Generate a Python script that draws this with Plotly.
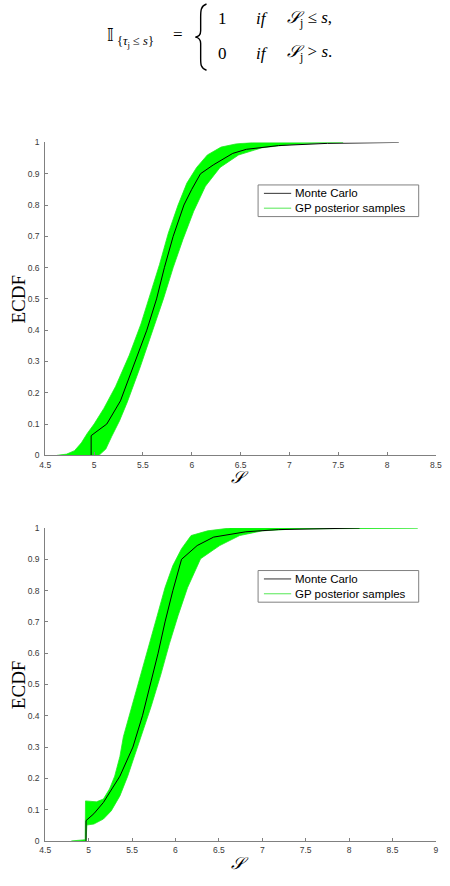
import plotly.graph_objects as go

W, H = 450, 886

# ---------------- data ----------------
# Top panel
mc1_s = [4.97, 4.97, 5.03, 5.13, 5.27, 5.42, 5.54, 5.64, 5.72, 5.81, 5.92, 6.00, 6.09, 6.22, 6.42, 6.56, 6.89, 7.39, 8.12]
mc1_p = [0.0, 0.063, 0.077, 0.10, 0.174, 0.30, 0.40, 0.50, 0.60, 0.70, 0.80, 0.85, 0.90, 0.928, 0.965, 0.978, 0.99, 0.997, 1.0]

gp1_up_s = [4.62, 4.72, 4.80, 4.87, 4.93, 5.00, 5.10, 5.22, 5.36, 5.48, 5.58, 5.67, 5.76, 5.86, 5.95, 6.05, 6.16, 6.30, 6.45, 6.62]
gp1_up_p = [0.0, 0.004, 0.015, 0.04, 0.07, 0.10, 0.15, 0.22, 0.32, 0.42, 0.52, 0.61, 0.71, 0.80, 0.87, 0.92, 0.96, 0.985, 0.995, 1.0]
gp1_lo_s = [5.05, 5.12, 5.18, 5.26, 5.34, 5.47, 5.60, 5.71, 5.81, 5.91, 6.02, 6.14, 6.29, 6.48, 6.72, 7.00, 7.30, 7.55]
gp1_lo_p = [0.0, 0.02, 0.06, 0.11, 0.17, 0.28, 0.40, 0.50, 0.60, 0.69, 0.78, 0.86, 0.92, 0.96, 0.983, 0.993, 0.998, 1.0]

# Bottom panel
mc2_s = [4.97, 4.97, 5.06, 5.17, 5.36, 5.51, 5.62, 5.71, 5.80, 5.88, 5.97, 6.07, 6.25, 6.44, 6.81, 7.19, 7.56, 8.12]
mc2_p = [0.0, 0.065, 0.087, 0.123, 0.207, 0.30, 0.40, 0.50, 0.60, 0.70, 0.80, 0.90, 0.944, 0.971, 0.988, 0.995, 0.997, 1.0]

gp2_up_s = [4.80, 4.90, 4.96, 4.964, 5.09, 5.17, 5.24, 5.30, 5.36, 5.40, 5.50, 5.60, 5.70, 5.79, 5.88, 5.97, 6.07, 6.18, 6.37, 6.63]
gp2_up_p = [0.0, 0.002, 0.004, 0.128, 0.125, 0.134, 0.166, 0.207, 0.27, 0.333, 0.43, 0.53, 0.63, 0.72, 0.81, 0.88, 0.934, 0.976, 0.991, 1.0]
gp2_lo_s = [4.97, 4.98, 5.06, 5.17, 5.26, 5.36, 5.45, 5.54, 5.60, 5.72, 5.83, 5.93, 6.03, 6.14, 6.29, 6.51, 6.74, 7.00, 7.37, 7.80, 8.30, 8.79]
gp2_lo_p = [0.0, 0.051, 0.054, 0.070, 0.096, 0.144, 0.207, 0.281, 0.333, 0.43, 0.53, 0.63, 0.72, 0.81, 0.902, 0.944, 0.976, 0.991, 0.997, 0.999, 0.9995, 1.0]

y_ticks = [0, 0.1, 0.2, 0.3, 0.4, 0.5, 0.6, 0.7, 0.8, 0.9, 1]
y_ticktext = ["0", "0.1", "0.2", "0.3", "0.4", "0.5", "0.6", "0.7", "0.8", "0.9", "1"]
x1_ticks = [4.5, 5, 5.5, 6, 6.5, 7, 7.5, 8, 8.5]
x1_ticktext = ["4.5", "5", "5.5", "6", "6.5", "7", "7.5", "8", "8.5"]
x2_ticks = [4.5, 5, 5.5, 6, 6.5, 7, 7.5, 8, 8.5, 9]
x2_ticktext = ["4.5", "5", "5.5", "6", "6.5", "7", "7.5", "8", "8.5", "9"]

legend_names = ["Monte Carlo", "GP posterior samples"]

# ---------------- helpers ----------------
def PX(x):
    return x / W

def PY(y):
    return 1 - y / H

GREEN = "#00ff00"
AXC = "#808080"
TICKFONT = dict(family="Liberation Sans, Arial, sans-serif", size=8.5, color="#3a3a3a")
SERIF = "Liberation Serif, DejaVu Serif, Times New Roman, serif"
SANS = "Liberation Sans, Arial, sans-serif"

fig = go.Figure()

panels = [
    ("x", "y", mc1_s, mc1_p, gp1_up_s, gp1_up_p, gp1_lo_s, gp1_lo_p),
    ("x2", "y2", mc2_s, mc2_p, gp2_up_s, gp2_up_p, gp2_lo_s, gp2_lo_p),
]
for xa, ya, ms, mp, us, up, ls, lp in panels:
    fig.add_trace(go.Scatter(
        x=us + ls[::-1], y=up + lp[::-1], xaxis=xa, yaxis=ya,
        mode="lines", fill="toself", fillcolor=GREEN,
        line=dict(color="#22e822", width=0.8), name=legend_names[1],
        showlegend=False, hoverinfo="skip"))
    fig.add_trace(go.Scatter(
        x=ms, y=mp, xaxis=xa, yaxis=ya, mode="lines",
        line=dict(color="black", width=1), name=legend_names[0],
        showlegend=False))

# panel geometry (pixels)
x_left, x_right = 40.3, 441.7
top_y0, top_y1 = 455.5, 139.0
bot_y0, bot_y1 = 845.5, 529.0

axis_common = dict(showline=True, linecolor=AXC, linewidth=1, ticks="inside",
                   ticklen=3, tickcolor=AXC, showgrid=False, zeroline=False,
                   tickfont=TICKFONT, mirror=False)

fig.update_layout(
    width=W, height=H, margin=dict(l=0, r=0, t=0, b=0),
    paper_bgcolor="white", plot_bgcolor="white", showlegend=False,
    xaxis=dict(domain=[PX(x_left), PX(x_right)], range=[4.5, 8.5], anchor="y",
               tickvals=x1_ticks, ticktext=x1_ticktext, ticklabelstandoff=1, **axis_common),
    yaxis=dict(domain=[PY(top_y0), PY(top_y1)], range=[0, 1], anchor="x",
               tickvals=y_ticks, ticktext=y_ticktext, ticklabelstandoff=3, **axis_common),
    xaxis2=dict(domain=[PX(x_left), PX(x_right)], range=[4.5, 9], anchor="y2",
                tickvals=x2_ticks, ticktext=x2_ticktext, ticklabelstandoff=1, **axis_common),
    yaxis2=dict(domain=[PY(bot_y0), PY(bot_y1)], range=[0, 1], anchor="x2",
                tickvals=y_ticks, ticktext=y_ticktext, ticklabelstandoff=3, **axis_common),
)

ann = []
shapes = []

def text(x, y, s, size, family=SERIF, angle=0, xanchor="center", color="black", align="center"):
    ann.append(dict(x=PX(x), y=PY(y), xref="paper", yref="paper", text=s,
                    showarrow=False, xanchor=xanchor, yanchor="middle", align=align,
                    textangle=angle, font=dict(family=family, size=size, color=color)))

# axis titles
for yc, xt in [((top_y0 + top_y1) / 2, 478), ((bot_y0 + bot_y1) / 2, 868)]:
    text(13, yc, "ECDF", 19, angle=-90)
    text(240, xt, "<i>𝒮</i>", 17)

# legends (drawn in paper space)
for dy in [0, 390]:
    shapes.append(dict(type="rect", xref="paper", yref="paper",
                       x0=PX(259), x1=PX(424), y0=PY(182 + dy), y1=PY(214 + dy),
                       line=dict(color=AXC, width=1), fillcolor="white", layer="above"))
    for i, col in enumerate(["#333333", "#55e855"]):
        yy = 190.5 + 15 * i + dy
        shapes.append(dict(type="line", xref="paper", yref="paper",
                           x0=PX(265), x1=PX(293), y0=PY(yy), y1=PY(yy),
                           line=dict(color=col, width=1), layer="above"))
    text(295, 198 + dy, "<br>".join(legend_names), 11.5, family=SANS, xanchor="left", align="left")

# formula at top
text(107, 30, "𝕀", 17, family="DejaVu Sans, DejaVu Serif, serif")
text(112, 37, "{<i>τ</i><sub>j</sub> ≤ <i>s</i>}", 12.5, xanchor="left")
text(176.5, 30, "=", 17)
text(222.5, 14, "1", 17)
text(255, 14, "<i>if</i>", 17, xanchor="left")
text(287, 14, "<i>𝒮</i><sub>j</sub> ≤ <i>s</i>,", 17, xanchor="left")
text(222.5, 49, "0", 17)
text(255, 49, "<i>if</i>", 17, xanchor="left")
text(287, 49, "<i>𝒮</i><sub>j</sub> &gt; <i>s</i>.", 17, xanchor="left")

# curly brace
pts = [(206, -1), (200, 1), (200, 6), (200, 12), (200, 26), (200, 30), (198, 32), (194.5, 32.5),
       (198, 33), (200, 35), (200, 39), (200, 54), (200, 60), (200, 64), (206, 66)]
def P(p):
    return f"{PX(p[0]):.5f},{PY(p[1]):.5f}"
path = (f"M {P(pts[0])} C {P(pts[1])} {P(pts[2])} {P(pts[3])} L {P(pts[4])} "
        f"C {P(pts[5])} {P(pts[6])} {P(pts[7])} C {P(pts[8])} {P(pts[9])} {P(pts[10])} "
        f"L {P(pts[11])} C {P(pts[12])} {P(pts[13])} {P(pts[14])}")
shapes.append(dict(type="path", xref="paper", yref="paper", path=path,
                   line=dict(color="black", width=1.4)))

fig.update_layout(annotations=ann, shapes=shapes)
fig.write_html("out.html")
